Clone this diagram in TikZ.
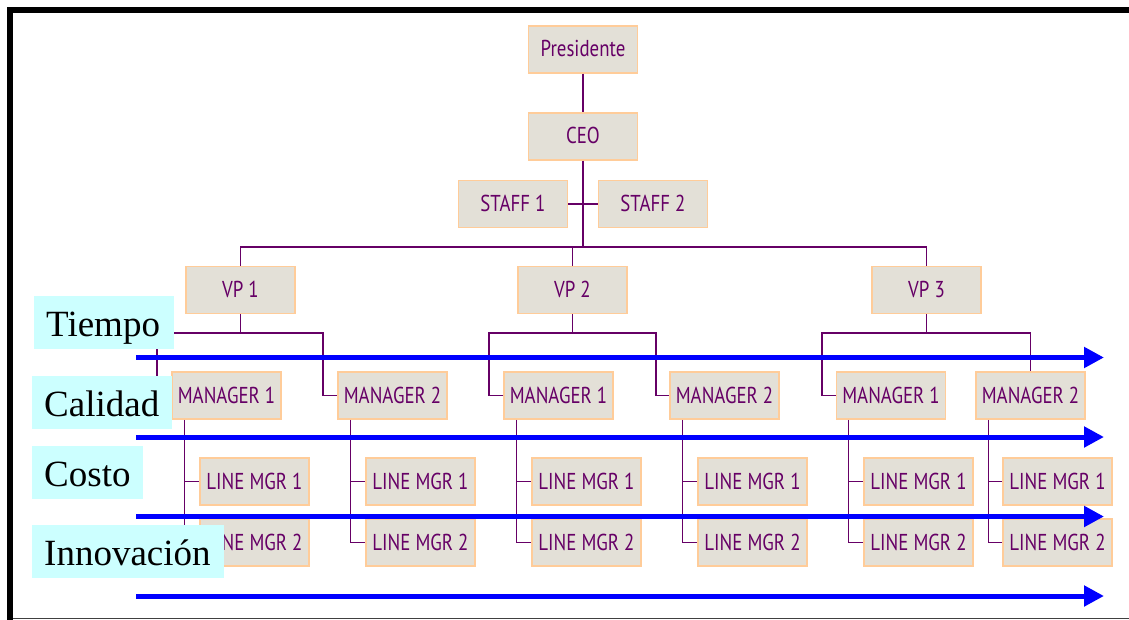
\documentclass[tikz,border=0pt]{standalone}
\usepackage{fontspec}
\setmainfont{Liberation Serif}
\newfontfamily\orgfont[FakeStretch=0.82]{PT Sans}
\usetikzlibrary{arrows.meta}

\definecolor{orgpurple}{RGB}{102,0,102}
\definecolor{orgfill}{RGB}{227,224,215}
\definecolor{orgedge}{RGB}{255,204,153}
\definecolor{tagcyan}{RGB}{204,255,255}
\definecolor{flowblue}{RGB}{0,0,255}

\tikzset{
  orgbox/.style={draw=orgedge, line width=1.5pt, fill=orgfill, text=orgpurple,
    minimum width=109pt, inner xsep=0pt, inner ysep=0pt,
    text height=31pt, text depth=16pt,
    font=\orgfont\fontsize{23}{25}\selectfont},
  orgline/.style={draw=orgpurple, line width=1.3pt},
  tagbox/.style={fill=tagcyan, text=black, anchor=west, align=left,
    inner xsep=12pt, inner ysep=0pt, text height=40pt, text depth=13pt,
    font=\fontsize{37}{40}\selectfont},
  flow/.style={draw=flowblue, line width=5pt, -{Triangle[length=20pt,width=20pt]}}
}

\begin{document}
\begin{tikzpicture}[x=1pt, y=-1pt]
  % page and frame
  \fill[white] (0,0) rectangle (1129,620);
  \useasboundingbox (0,0) rectangle (1129,620);
  \fill[black] (7,7) rectangle (1129,13);
  \fill[black] (7,7) rectangle (13,620);
  \draw[black!75, line width=1.5pt] (13,618.5) -- (1129,618.5);

  % top of the chart
  \node[orgbox] (pres) at (583,49.5) {Presidente};
  \node[orgbox] (ceo)  at (583,136.5) {CEO};
  \node[orgbox] (s1)   at (513,204) {STAFF 1};
  \node[orgbox] (s2)   at (653,204) {STAFF 2};

  % vice presidents
  \node[orgbox] (vp1) at (240.5,290) {VP 1};
  \node[orgbox] (vp2) at (572.5,290) {VP 2};
  \node[orgbox] (vp3) at (926.5,290) {VP 3};

  % managers
  \node[orgbox] (m11) at (226.5,395.5) {MANAGER 1};
  \node[orgbox] (m12) at (392.5,395.5) {MANAGER 2};
  \node[orgbox] (m21) at (558.5,395.5) {MANAGER 1};
  \node[orgbox] (m22) at (724.5,395.5) {MANAGER 2};
  \node[orgbox] (m31) at (891,395.5)   {MANAGER 1};
  \node[orgbox] (m32) at (1030.5,395.5) {MANAGER 2};

  % line managers
  \foreach \m/\x in {11/254.5, 12/420.5, 21/586.5, 22/752.5, 31/918.5, 32/1057.5} {
    \node[orgbox] (l\m1) at (\x,481.5) {LINE MGR 1};
    \node[orgbox] (l\m2) at (\x,542.5) {LINE MGR 2};
  }

  % connectors
  \coordinate (bus) at (583,247);
  \draw[orgline] (pres) -- (ceo);
  \draw[orgline] (ceo.south) -- (bus);
  \draw[orgline] (s1.east) -- (s2.west);
  \draw[orgline] (vp1.north) |- (bus) -| (vp3.north);
  \draw[orgline] (vp2.north) -- (vp2.north |- bus);

  \coordinate (a1) at (157,333);   \coordinate (b1) at (323,333);
  \coordinate (a2) at (489,333);   \coordinate (b2) at (656,333);
  \coordinate (a3) at (822,333);   \coordinate (b3) at (1030.5,333);
  \draw[orgline] (vp1.south) -- (vp1.south |- a1);
  \draw[orgline] (vp2.south) -- (vp2.south |- a2);
  \draw[orgline] (vp3.south) -- (vp3.south |- a3);
  \draw[orgline] (m11.west) -| (a1) -- (b1) |- (m12.west);
  \draw[orgline] (m21.west) -| (a2) -- (b2) |- (m22.west);
  \draw[orgline] (m31.west) -| (a3) -- (b3) -- (m32.north);

  \foreach \m in {11,12,21,22,31,32} {
    \coordinate (t\m) at ([xshift=13pt]m\m.south west);
    \draw[orgline] (t\m) |- (l\m2.west);
    \draw[orgline] (t\m |- l\m1.west) -- (l\m1.west);
  }

  % flow arrows
  \foreach \k/\y in {1/357.5, 2/437, 3/516.5, 4/596} {
    \coordinate (fs\k) at (136,\y);
    \coordinate (fe\k) at (1104,\y);
    \draw[flow] (fs\k) -- (fe\k);
  }

  % criteria tags
  \node[tagbox, text width=116pt] (tiempo)  at (34,322.5) {Tiempo};
  \node[tagbox, text width=116pt] (calidad) at (32,402.5) {Calidad};
  \node[tagbox, text width=87pt]  (costo)   at (32,472.5) {Costo};
  \node[tagbox, text width=168pt] (innov)   at (32,551.5) {Innovación};
\end{tikzpicture}
\end{document}
